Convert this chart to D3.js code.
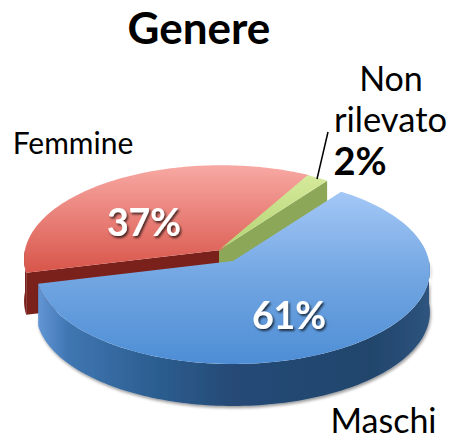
<!DOCTYPE html>
<html><head><meta charset="utf-8">
<script src="https://cdn.jsdelivr.net/npm/d3@7"></script>
<style>html,body{margin:0;padding:0;background:#fff}svg{display:block}text{font-family:Lato,Carlito,sans-serif}</style>
</head><body><svg id="c" width="453" height="440"></svg>
<script>
const chartTitle = "Genere";
const categories = ["Maschi", "Femmine", "Non rilevato"];
const values = [61, 37, 2];

const svg = d3.select("#c");
const defs = svg.append("defs");
function grad(id, stops, x1, y1, x2, y2) {
  const g = defs.append("linearGradient").attr("id", id).attr("gradientUnits", "userSpaceOnUse")
    .attr("x1", x1).attr("y1", y1).attr("x2", x2).attr("y2", y2);
  stops.forEach(s => g.append("stop").attr("offset", s[0]).attr("stop-color", s[1]));
}
grad("topB", [[0, "#a4c8f6"], [0.5, "#72a6e2"], [1, "#4d8dd5"]], 0, 190, 0, 365);
grad("topR", [[0, "#f8a8a3"], [1, "#d9574c"]], 0, 166, 0, 270);
grad("topG", [[0, "#d4e99a"], [1, "#b4d373"]], 0, 177, 0, 250);
grad("wallB", [[0, "#6397d6"], [0.08, "#3f76b2"], [0.3, "#2c5e90"], [0.5, "#254a76"], [0.85, "#22456c"], [1, "#2e547e"]], 37, 0, 430, 0);
const f = defs.append("filter").attr("id", "ds").attr("x", "-20%").attr("y", "-20%").attr("width", "140%").attr("height", "140%");
f.append("feDropShadow").attr("dx", 1.5).attr("dy", 2).attr("stdDeviation", 1.2).attr("flood-color", "#000").attr("flood-opacity", 0.7);
const f2 = defs.append("filter").attr("id", "ps").attr("x", "-10%").attr("y", "-10%").attr("width", "120%").attr("height", "120%");
f2.append("feDropShadow").attr("dx", 1).attr("dy", 2).attr("stdDeviation", 1.5).attr("flood-color", "#000").attr("flood-opacity", 0.4);

// pie layout: angles come from the values
const arcs = d3.pie().sort(null).startAngle(36.5 * Math.PI / 180).endAngle((360 + 36.5) * Math.PI / 180)(values);

// perspective projection of the tilted disc
const RX = 196, RY = 93, P = 0.097, DEPTH = 42;
function proj(a, r, o) { // a: d3 angle, 0 = up, clockwise
  const c = Math.sin(a), s = -Math.cos(a), w = 1 - P * s * r;
  return [o[0] + RX * r * c / w, o[1] + RY * r * s / w];
}
const pathLine = d3.line();
const down = p => [p[0], p[1] + DEPTH];
function arcPts(a0, a1, o) {
  return d3.range(0, 121).map(i => proj(a0 + (a1 - a0) * i / 120, 1, o));
}
const centers = [[233, 261], [221, 250], [219, 250]];

const root = svg.append("g");
function outerWall(d, o, fill) {
  const lo = Math.PI / 2, hi = 3 * Math.PI / 2;
  const segs = [0, 2 * Math.PI].map(k => [Math.max(d.startAngle, lo + k), Math.min(d.endAngle, hi + k)]).filter(s => s[0] < s[1]);
  segs.forEach(s => {
    const pts = arcPts(s[0], s[1], o);
    root.append("path").attr("d", pathLine(pts.concat(pts.map(down).reverse())) + "Z").attr("fill", fill);
  });
}
function cutWall(a, o, fill) {
  const e = proj(a, 1, o);
  root.append("path").attr("d", pathLine([e, o, down(o), down(e)]) + "Z").attr("fill", fill);
}
function topFace(d, o, fill) {
  root.append("path").attr("d", pathLine([o].concat(arcPts(d.startAngle, d.endAngle, o))) + "Z").attr("fill", fill);
}

// red and green, set back
outerWall(arcs[1], centers[1], "#7a211c");
cutWall(arcs[1].startAngle, centers[1], "#7a211c");
cutWall(arcs[2].endAngle, centers[2], "#8ba757");
topFace(arcs[1], centers[1], "url(#topR)");
topFace(arcs[2], centers[2], "url(#topG)");

// blue, in front
const wp = arcPts(Math.PI / 2, arcs[0].endAngle, centers[0]);
root.append("path").attr("d", pathLine(wp.concat(wp.map(down).reverse())) + "Z")
  .attr("fill", "url(#wallB)").attr("filter", "url(#ps)");
topFace(arcs[0], centers[0], "url(#topB)");

// leader line
svg.append("line").attr("x1", 328).attr("y1", 132).attr("x2", 317).attr("y2", 179)
  .attr("stroke", "#000").attr("stroke-width", 1.5);

// text
const txt = (s, x, y, size, weight, fill, anchor) => svg.append("text").text(s).attr("x", x).attr("y", y)
  .attr("font-size", size).attr("font-weight", weight || 400).attr("fill", fill || "#000").attr("text-anchor", anchor || "middle");
txt(chartTitle, 199, 44, 44, 700);
txt(categories[1], 73, 154, 30);
const parts = categories[2].split(" ");
txt(parts[0], 391, 91, 34);
txt(parts[1], 390.5, 132, 34.5);
txt(values[2] + "%", 360, 175, 38, 700);
txt(categories[0], 383.5, 432.5, 34);
txt(values[1] + "%", 144, 236, 37.5, 700, "#fff").attr("filter", "url(#ds)");
txt(values[0] + "%", 289, 329, 37.5, 700, "#fff").attr("filter", "url(#ds)");
</script></body></html>
